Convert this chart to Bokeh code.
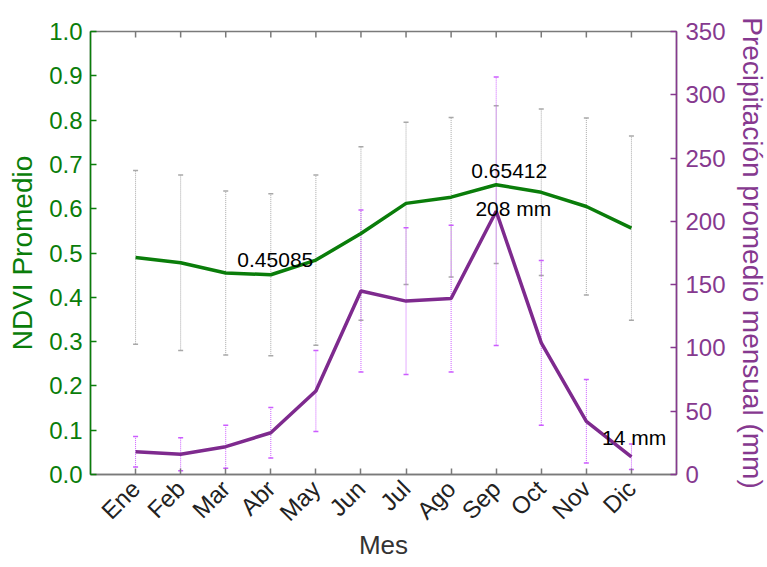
import math
from bokeh.plotting import figure
from bokeh.models import (Range1d, LinearAxis, FixedTicker, PrintfTickFormatter,
                          ColumnDataSource, Whisker, TeeHead)
from bokeh.core.properties import value
from bokeh.embed import file_html
from bokeh.resources import INLINE

# ---------------- data ----------------
months = ["Ene", "Feb", "Mar", "Abr", "May", "Jun", "Jul", "Ago", "Sep", "Oct", "Nov", "Dic"]
ndvi = [0.490, 0.478, 0.455, 0.45085, 0.484, 0.544, 0.612, 0.626, 0.65412, 0.637, 0.605, 0.556]
ndvi_sd = [0.196, 0.198, 0.185, 0.183, 0.192, 0.196, 0.183, 0.180, 0.178, 0.188, 0.200, 0.208]
precip = [18, 16, 22, 33, 66, 145, 137, 139, 208, 104, 42, 14]
precip_sd = [12, 13, 17, 20, 32, 64, 58, 58, 106, 65, 33, 10]
ndvi_ticks = [0.0, 0.1, 0.2, 0.3, 0.4, 0.5, 0.6, 0.7, 0.8, 0.9, 1.0]
precip_ticks = [0, 50, 100, 150, 200, 250, 300, 350]

FONT = "Liberation Sans"
GREEN = "#0a7d0a"
PURPLE = "#7e2a8e"
PURPLE_AX = "#86398f"
VIOLET = "#cc5cff"
GRAY_EB = "#a8a8a8"
AXGRAY = "#7a7a7a"

xs = list(range(1, len(months) + 1))

p = figure(frame_width=586, frame_height=443,
           x_range=Range1d(0, len(months) + 1), y_range=Range1d(0, 1),
           output_backend="svg", toolbar_location=None,
           min_border_left=90, min_border_top=31, min_border_right=88, min_border_bottom=80,
           x_axis_location=None, y_axis_location=None)
p.extra_y_ranges = {"pp": Range1d(0, 350)}
p.grid.visible = False
p.outline_line_color = AXGRAY
p.outline_line_width = 1.5
p.background_fill_color = "white"
p.border_fill_color = "white"

# left axis
la = LinearAxis(ticker=FixedTicker(ticks=ndvi_ticks), formatter=PrintfTickFormatter(format="%.1f"),
                axis_label="NDVI Promedio")
# right axis
ra = LinearAxis(y_range_name="pp", ticker=FixedTicker(ticks=precip_ticks),
                axis_label="Precipitación promedio mensual (mm)")
# bottom axis
ba = LinearAxis(ticker=FixedTicker(ticks=xs), axis_label="Mes",
                major_label_overrides={i: m for i, m in zip(xs, months)},
                major_label_orientation=math.pi / 4)

for ax, col, lab in ((la, GREEN, GREEN), (ra, PURPLE_AX, PURPLE_AX), (ba, AXGRAY, "#222222")):
    ax.axis_line_color = col
    ax.axis_line_width = 1.5
    ax.major_tick_line_color = col
    ax.major_tick_line_width = 1.5
    ax.major_tick_in = 6
    ax.major_tick_out = 0
    ax.minor_tick_line_color = None
    ax.major_label_text_font = FONT
    ax.axis_label_text_font = FONT
    ax.axis_label_text_font_style = "normal"
    ax.major_label_text_color = lab

la.major_label_text_font_size = "24px"
la.axis_label_text_font_size = "28px"
la.axis_label_text_color = GREEN
la.major_label_standoff = 8
la.axis_label_standoff = 8

ra.major_label_text_font_size = "24px"
ra.axis_label_text_font_size = "28px"
ra.axis_label_text_color = PURPLE_AX
ra.major_label_standoff = 9
ra.axis_label_standoff = 8

ba.major_label_text_font_size = "24px"
ba.axis_label_text_font_size = "26px"
ba.axis_label_text_color = "#333333"
ba.major_label_standoff = 10
ba.axis_label_standoff = -9

p.add_layout(la, "left")
p.add_layout(ra, "right")
p.add_layout(ba, "below")

# top-edge tick marks (inward) at each month
p.ray(x=xs, y=[p.y_range.end] * len(xs), length=6, length_units="screen",
      angle=-math.pi / 2, line_color=AXGRAY, line_width=1.5)

# error bars
src_n = ColumnDataSource(dict(x=xs,
                              lo=[v - s for v, s in zip(ndvi, ndvi_sd)],
                              hi=[v + s for v, s in zip(ndvi, ndvi_sd)]))
src_p = ColumnDataSource(dict(x=xs,
                              lo=[v - s for v, s in zip(precip, precip_sd)],
                              hi=[v + s for v, s in zip(precip, precip_sd)]))

wn = Whisker(source=src_n, base="x", lower="lo", upper="hi", line_color=GRAY_EB,
             line_dash="1 1", line_width=1,
             lower_head=TeeHead(size=5, line_color=GRAY_EB, line_width=1.5),
             upper_head=TeeHead(size=5, line_color=GRAY_EB, line_width=1.5))
wp = Whisker(source=src_p, base="x", lower="lo", upper="hi", y_range_name="pp",
             line_color=VIOLET, line_dash="1 1", line_width=1,
             lower_head=TeeHead(size=5, line_color=VIOLET, line_width=1.5),
             upper_head=TeeHead(size=5, line_color=VIOLET, line_width=1.5))
p.add_layout(wn)
p.add_layout(wp)

# lines
p.line(xs, ndvi, line_color=GREEN, line_width=3.5)
p.line(xs, precip, line_color=PURPLE, line_width=3.5, y_range_name="pp")

# annotations
i_min = ndvi.index(min(ndvi))
i_max = ndvi.index(max(ndvi))
j_max = precip.index(max(precip))
j_min = precip.index(min(precip))
p.text(x=[xs[i_min] + 0.1, xs[i_max] + 0.29], y=[ndvi[i_min] + 0.033, ndvi[i_max] + 0.032],
       text=[f"{ndvi[i_min]:.5f}", f"{ndvi[i_max]:.5f}"],
       text_font=value(FONT), text_font_size="21px", text_align="center",
       text_baseline="alphabetic", text_color="black")
p.text(x=[xs[j_max] + 0.38, xs[j_min] + 0.06], y=[precip[j_max] + 2, precip[j_min] + 15.5],
       text=[f"{precip[j_max]} mm", f"{precip[j_min]} mm"], y_range_name="pp",
       text_font=value(FONT), text_font_size="21px", text_align="center",
       text_baseline="alphabetic", text_color="black")

open("out.html", "w").write(file_html(p, INLINE))
